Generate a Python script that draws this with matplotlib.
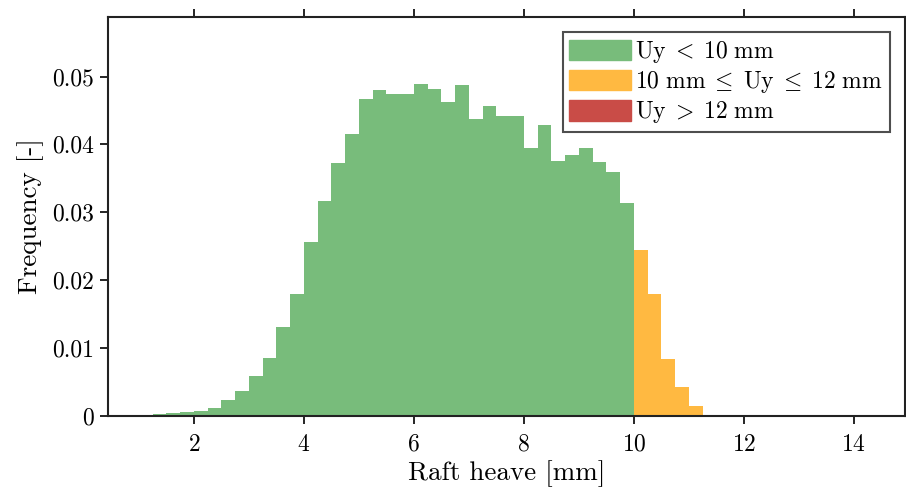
import matplotlib
matplotlib.use("Agg")
import matplotlib.pyplot as plt
from matplotlib.patches import Patch

plt.rcParams['font.family'] = 'serif'
plt.rcParams['font.serif'] = ['cmr10']
plt.rcParams['mathtext.fontset'] = 'cm'
plt.rcParams['axes.formatter.use_mathtext'] = True

# bin width 0.25 mm, left edges
green_left = [0.75 + 0.25 * i for i in range(37)]
green_freq = [0.0001, 0.0001, 0.0002, 0.0003, 0.0005, 0.0007, 0.0011, 0.0023,
              0.0036, 0.0059, 0.0085, 0.0131, 0.0180, 0.0256, 0.0317, 0.0372,
              0.0415, 0.0467, 0.0481, 0.0475, 0.0474, 0.0489, 0.0482, 0.0462,
              0.0488, 0.0438, 0.0457, 0.0442, 0.0442, 0.0394, 0.0429, 0.0375,
              0.0384, 0.0395, 0.0374, 0.0359, 0.0313]
orange_left = [10.0, 10.25, 10.5, 10.75, 11.0]
orange_freq = [0.0244, 0.0180, 0.0084, 0.0042, 0.0014]
bin_w = 0.25

c_green = '#78BC7B'
c_orange = '#FFB941'
c_red = '#C94C47'

fig = plt.figure(figsize=(9.06, 4.92), dpi=100)
ax = fig.add_axes([108 / 906, 1 - 415.5 / 492, (905 - 108) / 906, (415.5 - 17) / 492])

ax.bar(green_left, green_freq, width=bin_w, align='edge', color=c_green, linewidth=0)
ax.bar(orange_left, orange_freq, width=bin_w, align='edge', color=c_orange, linewidth=0)

ax.set_xlim(0.44, 14.93)
ax.set_ylim(0, 0.0588)
ax.set_xticks([2, 4, 6, 8, 10, 12, 14])
ax.set_yticks([0, 0.01, 0.02, 0.03, 0.04, 0.05])
ax.set_yticklabels(['0', '0.01', '0.02', '0.03', '0.04', '0.05'])
ax.tick_params(axis='x', direction='out', top=True, bottom=True, length=6, width=1.2,
               labelsize=17, pad=7)
ax.tick_params(axis='y', direction='out', left=True, right=False, length=6, width=1.2,
               labelsize=17, pad=4)
for s in ax.spines.values():
    s.set_linewidth(1.5)
    s.set_color('#222222')

ax.set_xlabel('Raft heave [mm]', fontsize=19.5, labelpad=3)
ax.set_ylabel('Frequency [-]', fontsize=19.5, labelpad=6)

handles = [Patch(color=c_green), Patch(color=c_orange), Patch(color=c_red)]
labels = [r'$\mathrm{Uy}\;<\;10\ \mathrm{mm}$',
          r'$10\ \mathrm{mm}\;\leq\;\mathrm{Uy}\;\leq\;12\ \mathrm{mm}$',
          r'$\mathrm{Uy}\;>\;12\ \mathrm{mm}$']
leg = ax.legend(handles, labels, loc='upper right', fontsize=17, frameon=True,
                fancybox=False, edgecolor='#222222', handlelength=2.6, handleheight=0.95,
                handletextpad=0.2, labelspacing=0.18, borderpad=0.28,
                borderaxespad=0.65)
leg.get_frame().set_linewidth(1.5)

fig.savefig('out.png', dpi=100)
